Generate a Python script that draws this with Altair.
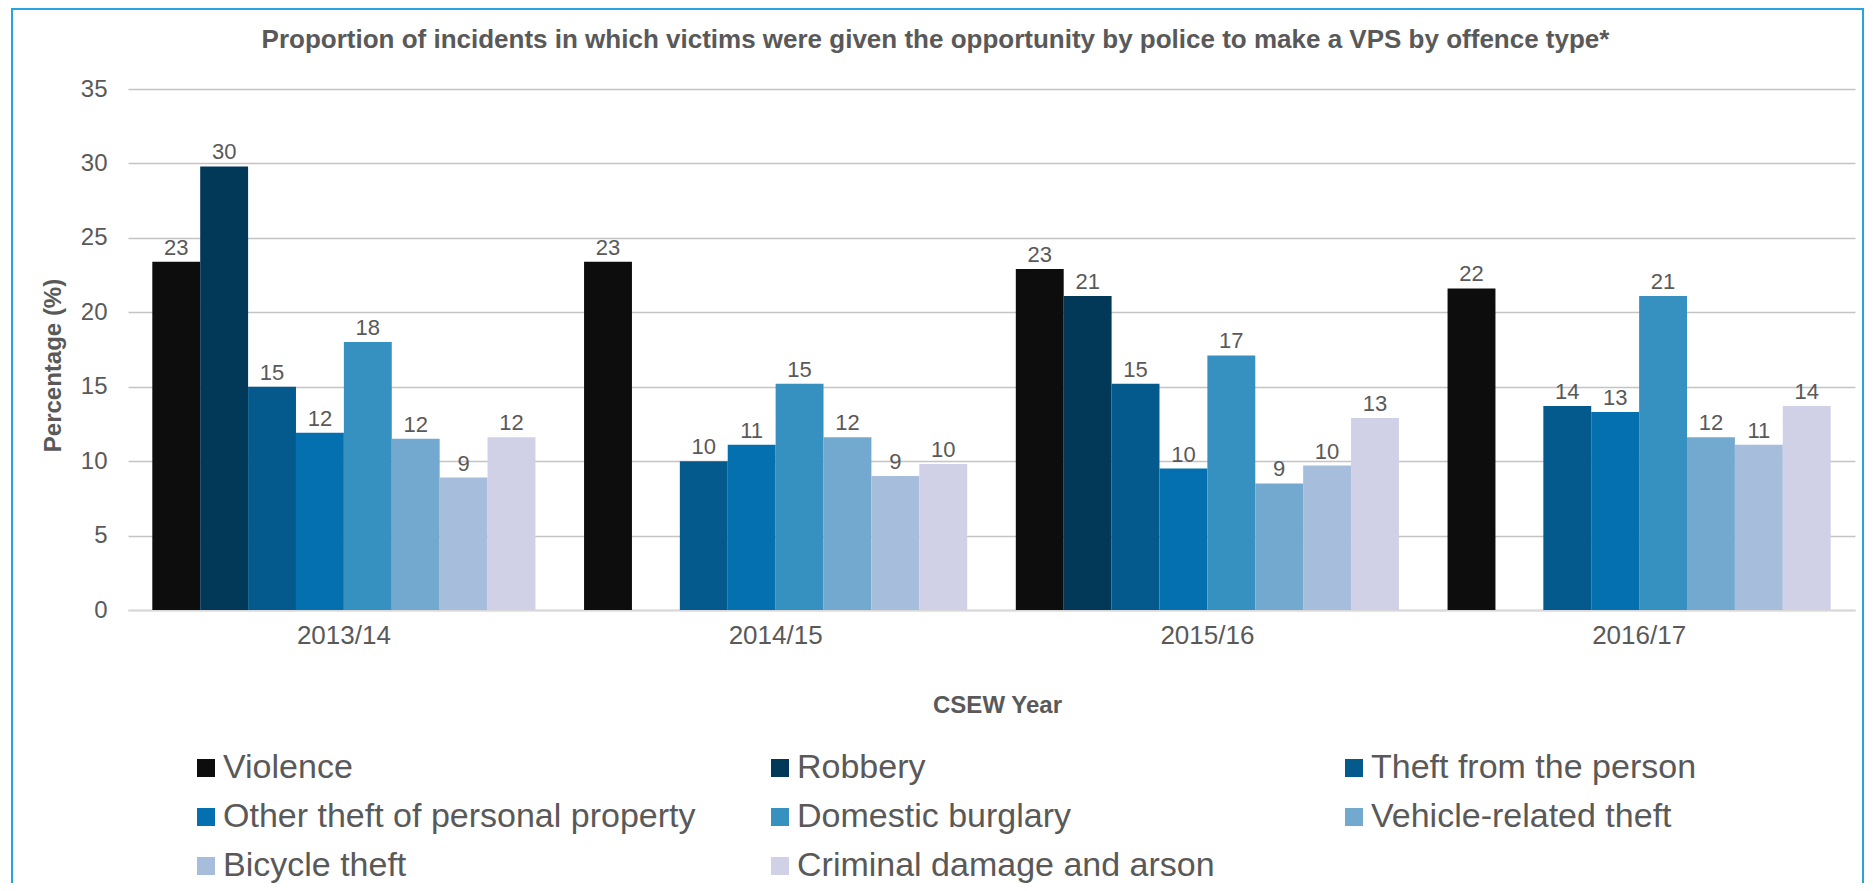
import altair as alt
import pandas as pd

years = ["2013/14", "2014/15", "2015/16", "2016/17"]
offences = [
    "Violence",
    "Robbery",
    "Theft from the person",
    "Other theft of personal property",
    "Domestic burglary",
    "Vehicle-related theft",
    "Bicycle theft",
    "Criminal damage and arson",
]
violence = [23.4, 23.4, 22.9, 21.6]
robbery = [29.8, None, 21.1, None]
theft_person = [15.0, 10.0, 15.2, 13.7]
other_theft = [11.9, 11.1, 9.5, 13.3]
burglary = [18.0, 15.2, 17.1, 21.1]
vehicle = [11.5, 11.6, 8.5, 11.6]
bicycle = [8.9, 9.0, 9.7, 11.1]
criminal = [11.6, 9.8, 12.9, 13.7]
colors = ["#0d0d0d", "#023858", "#045a8d", "#0570b0", "#3690c0", "#74a9cf", "#a6bddb", "#d0d1e6"]

series = [violence, robbery, theft_person, other_theft, burglary, vehicle, bicycle, criminal]
rows = []
for name, vals in zip(offences, series):
    for yr, v in zip(years, vals):
        if v is not None:
            rows.append({"Year": yr, "Offence": name, "Value": v})
df = pd.DataFrame(rows)

FONT = "Liberation Sans"
TXT = "#595959"

base = alt.Chart(df)

bars = base.mark_bar().encode(
    x=alt.X("Year:N", sort=years,
            scale=alt.Scale(paddingInner=0.1126, paddingOuter=0.0563),
            axis=alt.Axis(title="CSEW Year", labelAngle=0, ticks=False,
                          domainColor="#d9d9d9", domainWidth=2,
                          labelFontSize=26, labelColor=TXT, labelFont=FONT,
                          labelPadding=12, titleFontSize=24, titleFont=FONT,
                          titleColor=TXT, titleFontWeight="bold", titlePadding=45,
                          titleX=869)),
    xOffset=alt.XOffset("Offence:N", sort=offences, scale=alt.Scale(domain=offences, paddingInner=0, paddingOuter=0)),
    y=alt.Y("Value:Q", scale=alt.Scale(domain=[0, 35], nice=False),
            axis=alt.Axis(title="Percentage (%)", values=[0, 5, 10, 15, 20, 25, 30, 35],
                          ticks=False, domain=False, gridColor="#c4c4c4", gridWidth=1.5,
                          labelFontSize=24, labelColor=TXT, labelFont=FONT, labelPadding=21,
                          titleFontSize=24, titleFont=FONT, titleColor=TXT,
                          titleFontWeight="bold", titlePadding=15, titleY=276)),
    color=alt.Color("Offence:N", sort=offences,
                    scale=alt.Scale(domain=offences, range=colors),
                    legend=alt.Legend(title=None, orient="none", legendX=61, legendY=662,
                                      direction="horizontal", columns=3, gridAlign="all",
                                      columnPadding=67, rowPadding=15, symbolType="square",
                                      symbolSize=324, symbolStrokeWidth=0, labelOffset=0,
                                      labelFontSize=34, labelFont=FONT, labelColor=TXT,
                                      labelLimit=0, padding=0)),
)

labels = base.mark_text(baseline="alphabetic", dy=-7, fontSize=22, font=FONT, color=TXT).encode(
    x=alt.X("Year:N", sort=years),
    xOffset=alt.XOffset("Offence:N", sort=offences),
    y=alt.Y("Value:Q"),
    text=alt.Text("Value:Q", format=".0f"),
)

border = alt.Chart(pd.DataFrame({"k": [0]})).mark_rect(
    fill=None, stroke="#29a3dd", strokeWidth=2, clip=False
).encode(
    x=alt.value(-116), x2=alt.value(1735), y=alt.value(-80), y2=alt.value(900)
)

chart = alt.layer(bars, labels, border).properties(
    width=1727,
    height=521,
    title=alt.TitleParams(
        "Proportion of incidents in which victims were given the opportunity by police to make a VPS by offence type*",
        fontSize=26, font=FONT, fontWeight="bold", color=TXT, anchor="middle",
        frame="group", dx=-56, dy=107, offset=41, baseline="alphabetic",
    ),
    autosize=alt.AutoSizeParams(type="none"),
    padding={"left": 120, "top": 81, "right": 10, "bottom": 273},
).configure_view(stroke=None).configure_axis(grid=True).configure_axisX(grid=False)

chart.save("out.html", embed_options={"renderer": "svg", "actions": False})
